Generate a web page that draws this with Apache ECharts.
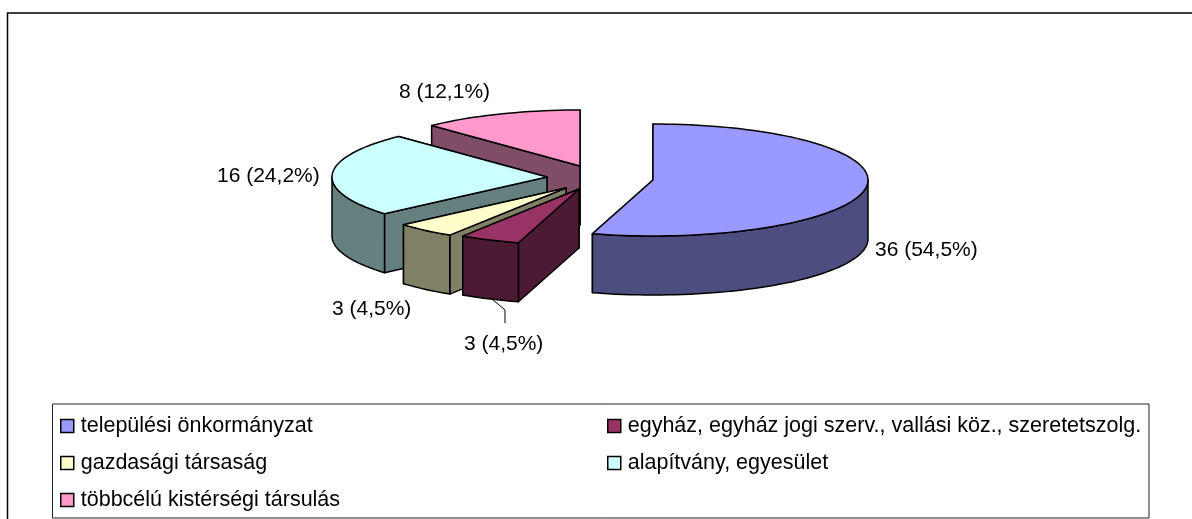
<!DOCTYPE html>
<html><head><meta charset="utf-8">
<style>html,body{margin:0;padding:0;background:#fff}#c{width:1192px;height:519px}</style>
<script src="https://cdn.jsdelivr.net/npm/echarts@6/dist/echarts.min.js"></script>
</head><body><div id="c"></div>
<script>
const categories = ['települési önkormányzat','egyház, egyház jogi szerv., vallási köz., szeretetszolg.','gazdasági társaság','alapítvány, egyesület','többcélú kistérségi társulás'];
const values = [36,3,3,16,8];
const percentLabels = ['54,5','4,5','4,5','24,2','12,1'];
const topColors = ['#9999FF','#993366','#FFFFCC','#CCFFFF','#FF99CC'];
const sideColors = ['#4D4D80','#4D1A33','#808066','#668080','#804D66'];

// layout only
const apex = [[653,180],[579,189],[566,188],[547,177],[580,166]];
const rx = 215, ry = 56, depth = 59;
const labelPos = [[875,250],[464,344],[332,309],[217,176],[399,92]];
const legendPos = [[60,415],[607,415],[60,452],[607,452],[60,489]];
const paintOrder = [4,3,2,1,0];
const FONT = '"Liberation Sans", Arial, sans-serif';
const FS = 21, LFS = 21.5;

const total = values.reduce((a,b)=>a+b,0);
const starts = []; let acc = 0;
values.forEach(v=>{starts.push(acc); acc+=v;});

function pt(c, deg, dz){
  const r = deg*Math.PI/180;
  return [c[0]+rx*Math.sin(r), c[1]-ry*Math.cos(r)+(dz||0)];
}
const line = {stroke:'#000',lineWidth:1.5,lineJoin:'round'};
function poly(points, fill){
  return {type:'polygon',shape:{points},style:Object.assign({fill},line),silent:true};
}
function sliceRender(i){
  return function(){
    const c = apex[i];
    const a0 = starts[i]/total*360, a1 = (starts[i]+values[i])/total*360;
    const kids = [];
    const below = [c[0],c[1]+depth];
    kids.push(poly([c,pt(c,a1),pt(c,a1,depth),below],sideColors[i]));
    kids.push(poly([c,pt(c,a0),pt(c,a0,depth),below],sideColors[i]));
    const r0 = Math.max(a0,90), r1 = Math.min(a1,270);
    if (r1>r0){
      const up=[],down=[];
      for(let d=r0;;d+=2){ const e=Math.min(d,r1); up.push(pt(c,e)); down.unshift(pt(c,e,depth)); if(e>=r1)break; }
      kids.push(poly(up.concat(down),sideColors[i]));
    }
    const top=[c];
    for(let d=a0;;d+=2){ const e=Math.min(d,a1); top.push(pt(c,e)); if(e>=a1)break; }
    kids.push(poly(top,topColors[i]));
    kids.push({type:'text',silent:true,style:{text:values[i]+' ('+percentLabels[i]+'%)',x:labelPos[i][0],y:labelPos[i][1],
      fill:'#000',font:FS+'px '+FONT,textAlign:'left',textVerticalAlign:'middle'}});
    if(i===1){
      kids.push({type:'polyline',silent:true,shape:{points:[[492,299],[505,310],[505,323]]},style:{stroke:'#000',lineWidth:1,fill:'none'}});
    }
    return {type:'group',children:kids};
  };
}
const series = paintOrder.map(i=>({
  type:'custom',name:categories[i],coordinateSystem:'none',silent:true,animation:false,
  color:topColors[i],itemStyle:{color:topColors[i]},
  renderItem:sliceRender(i),data:[[values[i]]],z:2
}));
const legends = categories.map((n,i)=>({
  show:true,left:legendPos[i][0],top:legendPos[i][1],padding:0,selectedMode:false,
  itemWidth:13,itemHeight:13,itemGap:0,icon:'rect',
  textStyle:{fontFamily:FONT,fontSize:LFS,color:'#000',padding:[0,0,0,2]},
  data:[{name:n,icon:'rect',itemStyle:{color:topColors[i],borderColor:'#000',borderWidth:1.5}}]
}));
const chart = echarts.init(document.getElementById('c'),null,{renderer:'canvas',width:1192,height:519});
chart.setOption({
  backgroundColor:'#fff',animation:false,
  legend:legends,series,
  graphic:[
    {type:'rect',silent:true,z:0,shape:{x:7.5,y:13,width:1300,height:600},style:{fill:'#fff',stroke:'#000',lineWidth:1.5}},
    {type:'rect',silent:true,z:1,shape:{x:52.5,y:404,width:1096.5,height:114},style:{fill:'#fff',stroke:'#222',lineWidth:1}}
  ]
});
</script></body></html>
